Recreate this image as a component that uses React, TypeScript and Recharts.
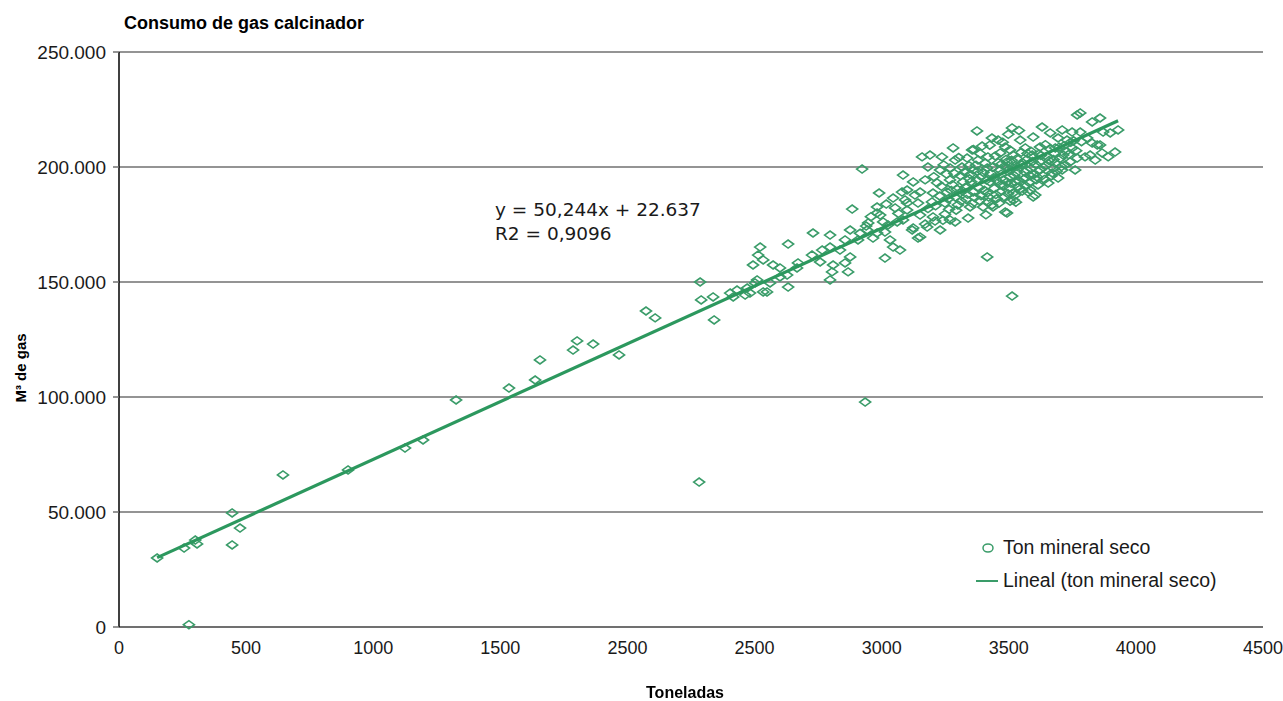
import { ScatterChart, Scatter, XAxis, YAxis, CartesianGrid } from 'recharts'

const GREEN = '#3a9c69'
const LINE_GREEN = '#2c985e'
const GRID = '#707070'

const X_TICKS = [0, 500, 1000, 1500, 2000, 2500, 3000, 3500, 4000, 4500]
// the source chart prints "2500" twice on the x axis, kept as is
const X_TICK_LABELS = ['0', '500', '1000', '1500', '2500', '2500', '3000', '3500', '4000', '4500']
const Y_TICKS = [0, 50000, 100000, 150000, 200000, 250000]

// [toneladas, m3 de gas]
const LOW_RANGE: [number, number][] = [
  [150, 30000], [256, 34300], [275, 1000], [300, 37800], [307, 36100], [445, 49600],
  [445, 35700], [476, 43000], [645, 66100], [901, 68300], [1125, 77800], [1196, 81300],
  [1326, 98700], [1534, 103900], [1637, 107400], [1656, 116100], [1786, 120400],
  [1802, 124400], [1865, 123000], [1967, 118300], [2073, 137400], [2109, 134400],
]

const MID_RANGE: [number, number][] = [
  [2282, 63000], [2286, 150000], [2290, 142200], [2341, 133500], [2337, 143500],
  [2404, 145200], [2416, 143500], [2431, 146500], [2463, 144300], [2471, 147400],
  [2482, 145200], [2494, 157400], [2502, 149600], [2510, 150900], [2514, 161700],
  [2522, 165200], [2534, 145700], [2534, 159600], [2549, 145700], [2561, 149600],
  [2573, 157400], [2600, 152200], [2600, 156100], [2628, 153000], [2632, 147800],
  [2632, 166500], [2667, 156100], [2671, 158300], [2726, 161700], [2730, 171300],
  [2758, 158700], [2766, 163900], [2797, 150900], [2797, 165200], [2797, 170400],
  [2805, 154400], [2809, 157400], [2836, 163900], [2856, 158300], [2856, 168300],
  [2868, 154400], [2876, 160900], [2876, 172600], [2884, 181700], [2907, 168300],
  [2923, 199100], [2935, 97800], [2939, 174300], [2943, 172600], [2947, 175700],
  [2966, 169100], [2982, 171300], [2982, 180000], [2982, 182600], [2990, 188700],
  [2994, 179100], [3006, 176100], [3013, 160400], [3013, 171700], [3025, 174800],
  [3033, 168300], [3045, 165200], [3045, 186500], [3053, 182200], [3061, 176100],
  [3072, 163900], [2915, 171200], [2958, 178400], [3018, 183900], [3066, 179800],
]

const DENSE_LOWER: [number, number][] = [
  [3080, 189100], [3084, 177000], [3084, 196500], [3092, 185700], [3100, 181300],
  [3100, 184400], [3100, 190000], [3120, 172600], [3124, 173500], [3124, 193500],
  [3131, 187800], [3143, 169100], [3143, 184300], [3151, 169600], [3151, 179100],
  [3151, 189100], [3159, 204400], [3171, 175200], [3171, 194400], [3179, 173900],
  [3198, 184800], [3202, 178300], [3202, 188700], [3210, 176500], [3218, 193100],
  [3230, 172600], [3249, 179500], [3249, 184300], [3257, 189100], [3269, 177000],
  [3269, 194400], [3289, 176100], [3300, 183500], [3308, 188700], [3320, 193500],
  [3340, 177800], [3348, 182600], [3360, 189100], [3375, 194400], [3399, 182600],
  [3415, 160900], [3415, 188700], [3426, 193500], [3434, 183500], [3438, 182600],
  [3466, 189100], [3478, 194400], [3486, 180400], [3493, 180000], [3493, 193500],
  [3513, 143900], [3517, 188700], [3525, 187800], [3525, 193500], [3537, 191300],
  [3576, 189100], [3584, 190000], [3596, 187000], [3604, 187800], [3655, 193000],
  [3290, 186900], [3330, 191200], [3385, 185400], [3452, 186200], [3505, 185100],
  [3560, 194800], [3265, 181600], [3228, 187400], [3182, 181900], [3410, 179200],
]

const DENSE_CORE: [number, number][] = [
  [3235, 191600], [3262, 186100], [3278, 192300], [3296, 190400], [3312, 185200],
  [3326, 197800], [3338, 188100], [3352, 193600], [3366, 186700], [3371, 200800],
  [3383, 191000], [3392, 195900], [3404, 189900], [3407, 201700], [3421, 186900],
  [3429, 197300], [3443, 190700], [3447, 204800], [3455, 193900], [3462, 184300],
  [3470, 196900], [3482, 191800], [3489, 203300], [3497, 188400], [3501, 198900],
  [3509, 192900], [3521, 196300], [3528, 184700], [3533, 200200], [3541, 194000],
  [3549, 206400], [3553, 189600], [3562, 197900], [3569, 203100], [3580, 193300],
  [3587, 206900], [3598, 196600], [3606, 201100], [3615, 192200], [3619, 205600],
  [3636, 199900], [3644, 209700], [3658, 202800], [3667, 196100], [3679, 206000],
  [3688, 198200], [3702, 203700], [3717, 209200], [3735, 205400], [3755, 211400],
  [3244, 200900], [3286, 197200], [3303, 204100], [3344, 200600], [3361, 207600],
  [3388, 205800], [3425, 209500], [3476, 210800], [3498, 214200], [3540, 215900],
]

const DENSE_FILL: [number, number][] = [
  [3212, 183100], [3241, 176800], [3274, 189800], [3293, 181200], [3318, 189600],
  [3333, 185900], [3349, 196800], [3357, 184100], [3377, 198100], [3391, 187500],
  [3412, 194300], [3419, 184800], [3436, 199800], [3449, 188000], [3459, 201900],
  [3468, 192300], [3481, 187100], [3487, 199900], [3503, 190800], [3511, 202900],
  [3519, 185600], [3531, 197700], [3546, 190600], [3551, 200900], [3567, 191700],
  [3574, 205900], [3582, 196300], [3593, 202400], [3608, 194400], [3626, 205000],
  [3633, 196400], [3647, 200800], [3662, 207900], [3676, 203300], [3698, 208600],
  [3707, 200200], [3726, 206800], [3744, 210800], [3765, 207100], [3786, 211000],
]

const DENSE_UPPER: [number, number][] = [
  [3182, 200000], [3190, 205200], [3230, 198700], [3237, 204400], [3269, 199600],
  [3281, 208300], [3289, 203000], [3316, 200000], [3336, 203900], [3356, 207400],
  [3360, 198700], [3375, 215700], [3379, 203000], [3395, 209100], [3415, 199600],
  [3418, 204400], [3434, 212600], [3458, 211700], [3466, 198700], [3466, 206100],
  [3486, 208700], [3493, 202200], [3505, 195700], [3505, 207400], [3513, 217000],
  [3517, 199600], [3517, 205200], [3545, 211700], [3556, 201700], [3565, 195200],
  [3565, 208300], [3572, 198700], [3592, 205200], [3596, 213000], [3611, 195700],
  [3623, 198700], [3623, 202200], [3623, 208700], [3631, 217400], [3651, 204400],
  [3663, 214800], [3671, 197400], [3675, 199600], [3683, 201700], [3683, 208300],
  [3694, 195200], [3694, 212600], [3710, 198700], [3710, 216100], [3714, 205200],
  [3722, 200900], [3729, 211700], [3741, 202200], [3749, 208300], [3749, 215200],
  [3761, 198700], [3769, 203900], [3769, 222600], [3781, 215200], [3781, 223500],
  [3800, 204400], [3808, 212600], [3820, 205200], [3828, 210400], [3828, 219600],
  [3840, 203000], [3848, 209600], [3859, 209600], [3859, 221300], [3867, 206100],
  [3871, 215200], [3891, 204400], [3899, 214800], [3918, 206500], [3930, 216100],
  [3310, 196200], [3345, 194900], [3400, 197600], [3440, 195300], [3472, 201400],
  [3532, 203600], [3588, 199300], [3640, 194600], [3255, 196900], [3205, 195800],
]

const TREND_LINE: [number, number][] = [[150, 30174], [3930, 220096]]

const toPoints = (rows: [number, number][]) => rows.map(([x, y]) => ({ x, y }))
const POINTS = [...LOW_RANGE, ...MID_RANGE, ...DENSE_LOWER, ...DENSE_CORE, ...DENSE_FILL, ...DENSE_UPPER]

const thousands = (v: number) => String(v).replace(/\B(?=(\d{3})+(?!\d))/g, '.')

const FONT = '"Liberation Sans", Arial, sans-serif'

const Diamond = (props: any) => {
  const { cx, cy } = props
  if (cx == null || cy == null) return <g />
  return (
    <polygon
      points={`${cx - 5.5},${cy} ${cx},${cy - 4} ${cx + 5.5},${cy} ${cx},${cy + 4}`}
      fill="none"
      stroke={GREEN}
      strokeWidth={1.6}
    />
  )
}

export default function App() {
  return (
    <div style={{ position: 'fixed', left: 0, top: 0, width: 1283, height: 701, background: '#fff' }}>
      <ScatterChart width={1283} height={701} margin={{ top: 52, right: 20, bottom: 34, left: 0 }}>
        <CartesianGrid vertical={false} stroke={GRID} strokeWidth={1.5} />
        <XAxis
          type="number"
          dataKey="x"
          domain={[0, 4500]}
          ticks={X_TICKS}
          tickFormatter={(v: number) => X_TICK_LABELS[X_TICKS.indexOf(v)]}
          axisLine={{ stroke: GRID, strokeWidth: 2 }}
          tickLine={false}
          tickSize={0}
          tickMargin={14}
          height={40}
          tick={{ fill: '#1a1a1a', fontSize: 18, fontFamily: FONT }}
        />
        <YAxis
          type="number"
          dataKey="y"
          domain={[0, 250000]}
          ticks={Y_TICKS}
          tickFormatter={thousands}
          width={119}
          axisLine={{ stroke: '#000', strokeWidth: 1.5 }}
          tickLine={{ stroke: GRID, strokeWidth: 1.5 }}
          tickSize={6}
          tickMargin={7}
          tick={{ fill: '#1a1a1a', fontSize: 19, fontFamily: FONT }}
        />
        <Scatter data={toPoints(POINTS)} shape={Diamond} isAnimationActive={false} legendType="none" />
        <Scatter
          data={toPoints(TREND_LINE)}
          line={{ stroke: LINE_GREEN, strokeWidth: 3.2 }}
          shape={() => <g />}
          isAnimationActive={false}
          legendType="none"
        />
      </ScatterChart>

      <div style={{ position: 'absolute', left: 124, top: 13, fontFamily: FONT, fontWeight: 'bold', fontSize: 18 }}>
        Consumo de gas calcinador
      </div>
      <div
        style={{
          position: 'absolute', left: 20, top: 368, transform: 'translate(-50%, -50%) rotate(-90deg)',
          fontFamily: FONT, fontWeight: 'bold', fontSize: 15, whiteSpace: 'nowrap',
        }}
      >
        M³ de gas
      </div>
      <div
        style={{
          position: 'absolute', left: 685, top: 693, transform: 'translate(-50%, -50%)',
          fontFamily: FONT, fontWeight: 'bold', fontSize: 16, whiteSpace: 'nowrap',
        }}
      >
        Toneladas
      </div>
      <div style={{ position: 'absolute', left: 495, top: 198, fontFamily: '"DejaVu Sans", sans-serif', fontSize: 18.5, lineHeight: '24px', color: '#1a1a1a' }}>
        <div>y = 50,244x + 22.637</div>
        <div>R2 = 0,9096</div>
      </div>

      <div style={{ position: 'absolute', left: 970, top: 531, fontFamily: FONT, fontSize: 19.5, color: '#1a1a1a' }}>
        <div style={{ display: 'flex', alignItems: 'center', height: 33 }}>
          <svg width={33} height={14}>
            <ellipse cx={18} cy={7} rx={5} ry={4} fill="none" stroke={GREEN} strokeWidth={1.5} />
          </svg>
          <span>Ton mineral seco</span>
        </div>
        <div style={{ display: 'flex', alignItems: 'center', height: 33 }}>
          <svg width={33} height={14}>
            <line x1={6} y1={7} x2={28} y2={7} stroke={GREEN} strokeWidth={2} />
          </svg>
          <span>Lineal (ton mineral seco)</span>
        </div>
      </div>
    </div>
  )
}
